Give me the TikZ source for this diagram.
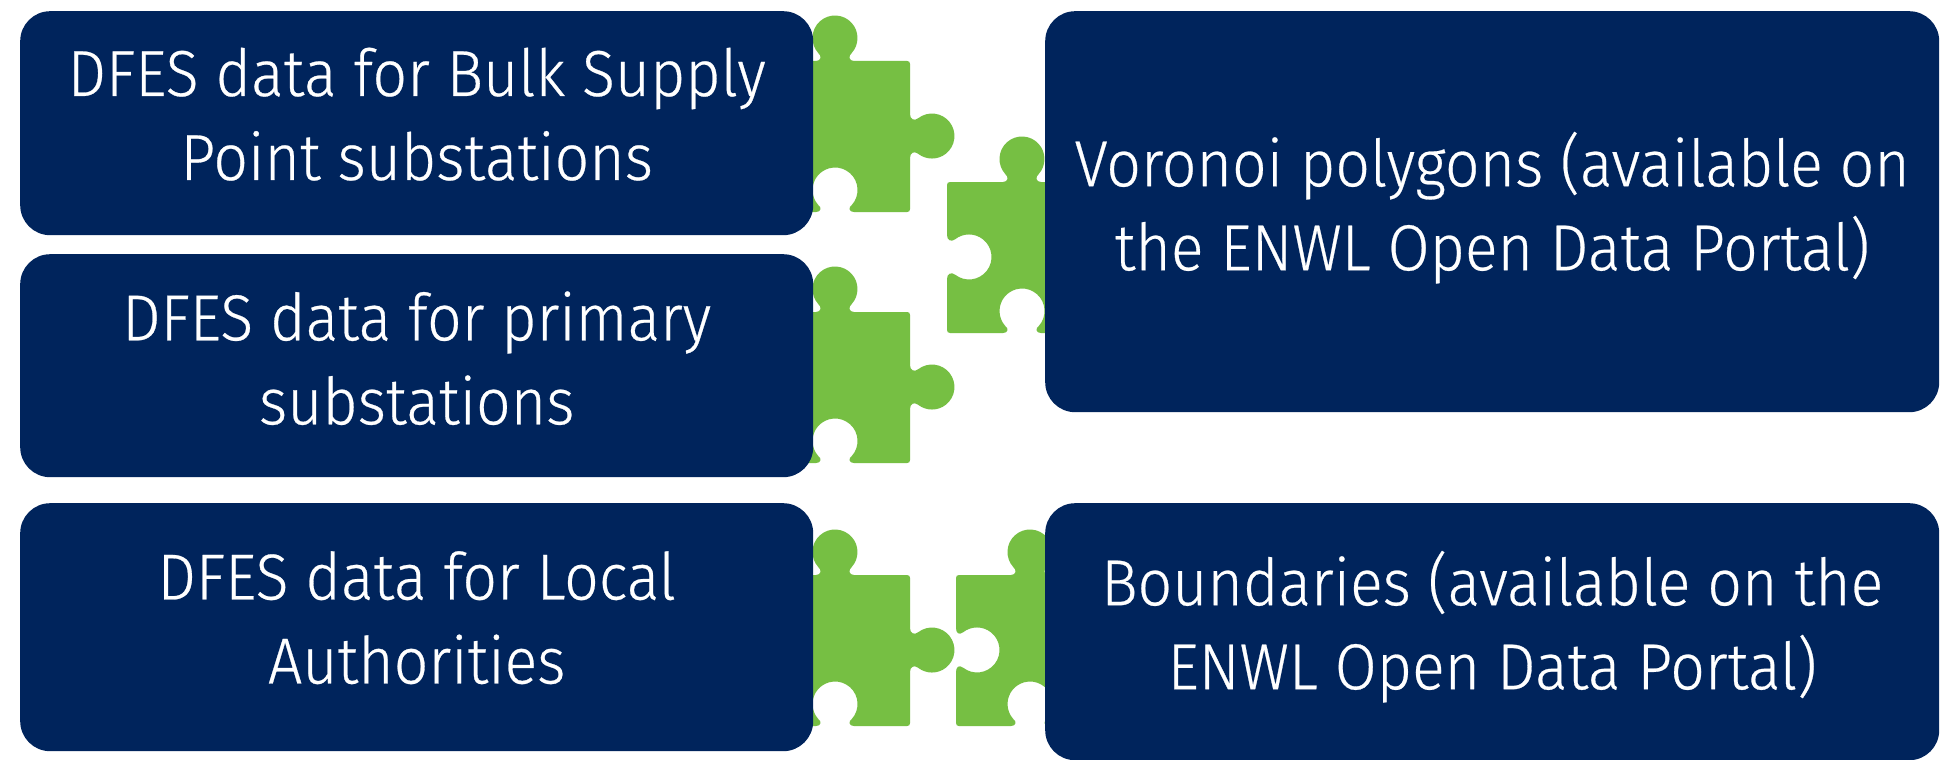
\documentclass[tikz,border=0pt]{standalone}
\usepackage{fontspec}
\setmainfont[FakeStretch=0.935,FakeBold=0.4]{Fira Sans Light}
\definecolor{navy}{HTML}{00245C}
\definecolor{leaf}{HTML}{76BF43}
\tikzset{x=1pt,y=-1pt,
 box/.style={fill=navy,rounded corners=30pt,inner sep=0pt,anchor=north west},
 txt/.style={text=white,align=center,font=\fontsize{65}{84}\selectfont,inner sep=0pt},
 pz/.style={fill=leaf}}
\newcommand{\tabTop}{(-19,23) .. controls (-14,23) and (-13,18) .. (-16.8,15) arc[start angle=138.2,end angle=401.8,radius=22.5] .. controls (13,18) and (14,23) .. (19,23)}
\newcommand{\notchBottom}{(19,174) .. controls (14,174) and (13,169.5) .. (16.8,167) arc[start angle=41.8,end angle=-221.8,radius=22.5] .. controls (-13,169.5) and (-14,174) .. (-19,174)}
\begin{document}
\begin{tikzpicture}
\useasboundingbox (0,0) rectangle (1943,760);
\fill[white] (0,0) rectangle (1943,760);
% left pieces
\foreach \dy in {0,251,514}{
\begin{scope}[shift={(835,38+\dy)}]
\fill[pz] (-30,23) -- \tabTop -- (72,23) .. controls (74,23) and (75,24) .. (75,26)
 -- (75,76) .. controls (75,81) and (79,83.5) .. (83.1,80.3) arc[start angle=-128,end angle=128,radius=22.5]
 .. controls (79,112.5) and (75,115) .. (75,120) -- (75,171) .. controls (75,173) and (74,174) .. (72,174)
 -- \notchBottom -- (-30,174) -- cycle;
\end{scope}}
% right pieces
\foreach \px/\py/\lx in {1022/159/-75,1030/552/-74}{
\begin{scope}[shift={(\px,\py)}]
\fill[pz] (\lx+3,23) -- \tabTop -- (40,23) -- (40,174) -- \notchBottom -- (\lx+3,174)
 .. controls (\lx+1,174) and (\lx,173) .. (\lx,171) -- (\lx,120)
 .. controls (\lx,115) and (-71,112.5) .. (-66.85,115.7) arc[start angle=128,end angle=-128,radius=22.5]
 .. controls (-71,83.5) and (\lx,81) .. (\lx,76) -- (\lx,26) .. controls (\lx,24) and (\lx+1,23) .. (\lx+3,23) -- cycle;
\end{scope}}
% boxes
\node[box,minimum width=793pt,minimum height=224pt] (b1) at (20,11) {};
\node[box,minimum width=793pt,minimum height=223pt] (b2) at (20,254) {};
\node[box,minimum width=793pt,minimum height=248pt] (b3) at (20,503) {};
\node[box,minimum width=894pt,minimum height=401pt] (r1) at (1045,11) {};
\node[box,minimum width=894pt,minimum height=257pt] (r2) at (1045,503) {};
% text
\node[txt] (t1) at ([yshift=9pt]b1.center) {DFES data for Bulk Supply\\Point substations};
\node[txt] (t2) at ([yshift=7.5pt]b2.center) {DFES data for primary\\substations};
\node[txt] (t3) at ([yshift=9.5pt]b3.center) {DFES data for Local\\Authorities};
\node[txt] (t4) at ([yshift=4pt]r1.center) {Voronoi polygons (available on\\the ENWL Open Data Portal)};
\node[txt] (t5) at ([yshift=5pt]r2.center) {Boundaries (available on the\\ENWL Open Data Portal)};
\end{tikzpicture}
\end{document}
